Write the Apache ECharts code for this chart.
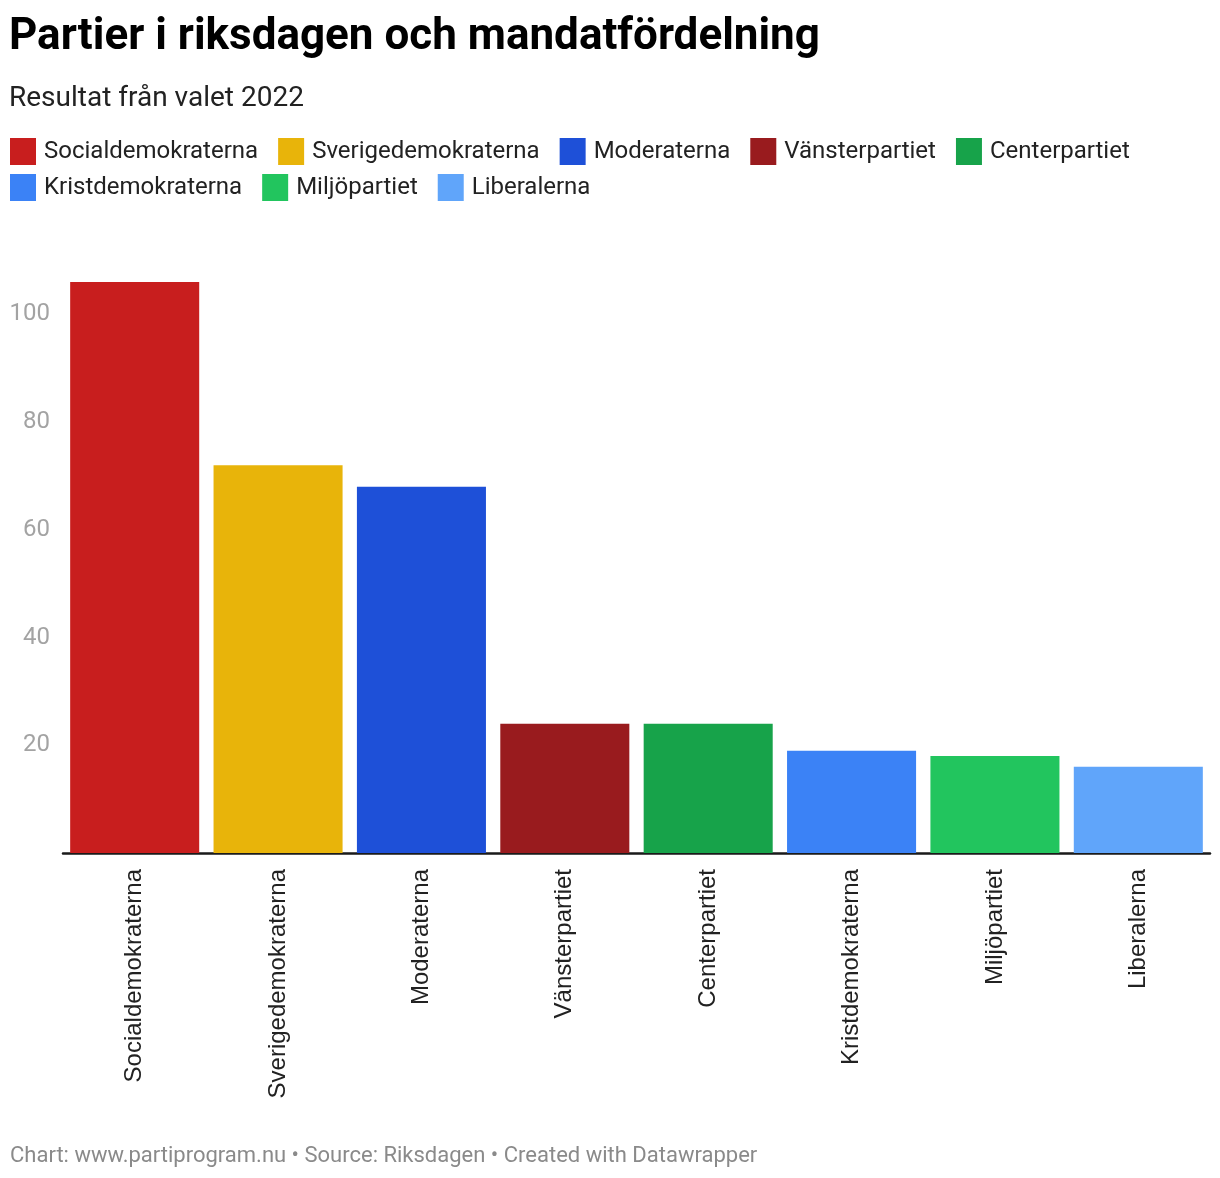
<!DOCTYPE html>
<html>
<head>
<meta charset="utf-8">
<script src="https://cdn.jsdelivr.net/npm/echarts@6/dist/echarts.min.js"></script>
<style>
html,body{margin:0;padding:0;background:#fff;}
#chart{width:1220px;height:1178px;}
</style>
</head>
<body>
<div id="chart"></div>
<script>
const categories = ['Socialdemokraterna','Sverigedemokraterna','Moderaterna','Vänsterpartiet','Centerpartiet','Kristdemokraterna','Miljöpartiet','Liberalerna'];
const seats = [106, 72, 68, 24, 24, 19, 18, 16];
const colors = ['#c81e1e','#e8b40a','#1e50d8','#991b1e','#17a34a','#3b82f6','#22c55e','#60a5fa'];
const yTicks = [20, 40, 60, 80, 100];

const titleText = 'Partier i riksdagen och mandatfördelning';
const subtitleText = 'Resultat från valet 2022';
const footerText = 'Chart: www.partiprogram.nu • Source: Riksdagen • Created with Datawrapper';

const chart = echarts.init(document.getElementById('chart'), null, {renderer: 'canvas'});

const series = categories.map((name, i) => ({
  name: name,
  type: 'bar',
  stack: 'all',
  barCategoryGap: '10%',
  itemStyle: {color: colors[i]},
  data: seats.map((v, j) => (j === i ? v : '-'))
}));

const legendBase = {
  left: 10,
  padding: 0,
  itemWidth: 26,
  itemHeight: 27,
  itemGap: 20,
  icon: 'rect',
  textStyle: {fontFamily: 'Roboto', fontSize: 24, color: '#222', padding: [0, 0, 0, 3]}
};

chart.setOption({
  animation: false,
  title: [{
    text: titleText,
    left: 9, top: 16, padding: 0,
    textStyle: {fontFamily: 'Roboto', fontWeight: 'bold', fontSize: 44, color: '#000'}
  }, {
    text: subtitleText,
    left: 9, top: 85, padding: 0,
    textStyle: {fontFamily: 'Roboto', fontWeight: 'normal', fontSize: 28, color: '#222'}
  }],
  legend: [
    Object.assign({}, legendBase, {top: 138, data: categories.slice(0, 5)}),
    Object.assign({}, legendBase, {top: 174, data: categories.slice(5)})
  ],
  grid: {left: 63, right: 10, top: 282, bottom: 325, containLabel: false},
  xAxis: {
    type: 'category',
    data: categories,
    axisLine: {show: true, lineStyle: {color: '#1a1a1a', width: 2.5}},
    axisTick: {show: false},
    axisLabel: {
      rotate: 90, margin: 16, interval: 0,
      fontFamily: 'Liberation Sans', fontSize: 24, color: '#222'
    }
  },
  yAxis: {
    type: 'value',
    min: 0,
    max: 'dataMax',
    interval: 20,
    splitLine: {show: false},
    axisLine: {show: false},
    axisTick: {show: false},
    axisLabel: {
      showMinLabel: false, showMaxLabel: false,
      margin: 13,
      fontFamily: 'Roboto', fontSize: 24, color: '#a3a3a3',
      formatter: v => (yTicks.indexOf(v) >= 0 ? String(v) : '')
    }
  },
  graphic: [{
    type: 'text', left: 10, top: 1145,
    style: {text: footerText, font: '22px Roboto', fill: '#8a8a8a'}
  }],
  series: series
});
</script>
</body>
</html>
